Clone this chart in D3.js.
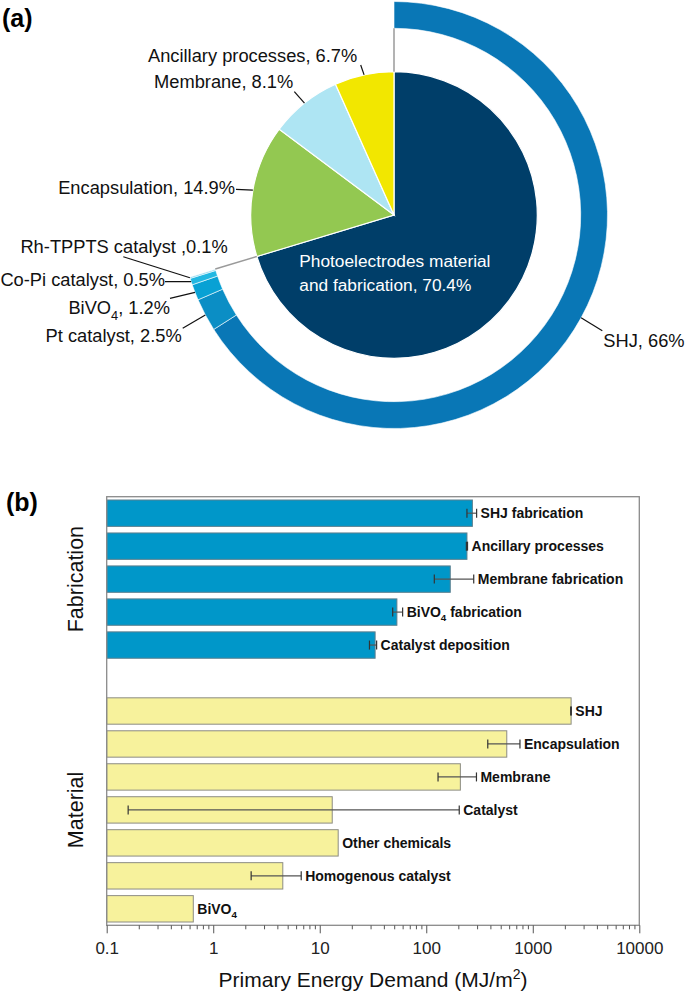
<!DOCTYPE html>
<html><head><meta charset="utf-8">
<script src="https://cdn.jsdelivr.net/npm/d3@7"></script>
<style>body{margin:0;background:#fff}svg{display:block;font-family:"Liberation Sans",Arial,sans-serif}</style>
</head><body><svg id="chart" width="685" height="996"></svg>
<script>
// ---------- data ----------
const pieLabels = ["Photoelectrodes material and fabrication", "Encapsulation", "Membrane", "Ancillary processes"];
const pieValues = [70.4, 14.9, 8.1, 6.7];
const ringLabels = ["SHJ", "Pt catalyst", "BiVO4", "Co-Pi catalyst", "Rh-TPPTS catalyst"];
const ringValues = [66, 2.5, 1.2, 0.5, 0.1];
const ringSeparators = [", ", ", ", ", ", ", ", " ,"];

const fabCategories = ["SHJ fabrication", "Ancillary processes", "Membrane fabrication", "BiVO4 fabrication", "Catalyst deposition"];
const fabValues = [271, 241, 168, 53, 33.1];
const fabErrLow = [241, 238, 119, 48.4, 29.3];
const fabErrHigh = [297, 244, 279, 60, 34.2];

const matCategories = ["SHJ", "Encapsulation", "Membrane", "Catalyst", "Other chemicals", "Homogenous catalyst", "BiVO4"];
const matValues = [2290, 570, 209, 13.1, 14.9, 4.5, 0.65];
const matErrLow = [2270, 378, 129, 0.159, null, 2.27, null];
const matErrHigh = [2300, 758, 296, 204, null, 6.7, null];

const groupLabels = ["Fabrication", "Material"];
const xTicks = [0.1, 1, 10, 100, 1000, 10000];
const xTickLabels = ["0.1", "1", "10", "100", "1000", "10000"];

(function () {
// ---------- styles / layout ----------
const pieColors = ["#003e69", "#93c851", "#aee5f3", "#f2e700"];
const ringColors = ["#0977b6", "#0b8ec5", "#08a1d4", "#22b8e2", "#7dd3ef"];
const svg = d3.select("#chart");
const FONT = 18.3;

function addText(sel, str, subSize) {
  const parts = str.split("BiVO4");
  let pendingDy = 0;
  parts.forEach((p, i) => {
    if (i > 0) {
      sel.append("tspan").text("BiVO");
      sel.append("tspan").attr("dy", subSize * 0.3).attr("font-size", subSize * 0.7).text("4");
      pendingDy = -subSize * 0.3;
    }
    if (p) {
      const ts = sel.append("tspan").text(p);
      if (pendingDy) { ts.attr("dy", pendingDy); pendingDy = 0; }
    }
  });
}

// ---------- panel (a) ----------
const cx = 394, cy = 215, R = 143.3, rIn = 186.7, rOut = 213.5;
const g = svg.append("g");
const pie = d3.pie().sort(null).value(d => d).startAngle(0).endAngle(2 * Math.PI);
const pieArcs = pie(pieValues);
const arc = d3.arc().innerRadius(0).outerRadius(R);
g.selectAll("path.pie").data(pieArcs).enter().append("path")
  .attr("transform", `translate(${cx},${cy})`)
  .attr("d", arc).attr("fill", (d, i) => pieColors[i])
  .attr("stroke", "#fff").attr("stroke-width", 1.2);

const ringTotal = d3.sum(ringValues);
const ringPie = d3.pie().sort(null).value(d => d).startAngle(0).endAngle(2 * Math.PI * ringTotal / 100);
const ringArcs = ringPie(ringValues);
const ringArc = d3.arc().innerRadius(rIn).outerRadius(rOut);
g.selectAll("path.ring").data(ringArcs).enter().append("path")
  .attr("transform", `translate(${cx},${cy})`)
  .attr("d", ringArc).attr("fill", (d, i) => ringColors[i])
  .attr("stroke", "#fff").attr("stroke-width", 0.6);

const pt = (a, r) => [cx + r * Math.sin(a), cy - r * Math.cos(a)];
[0, pieArcs[0].endAngle].forEach(a => {
  const p1 = pt(a, R), p2 = pt(a, rIn);
  g.append("line").attr("x1", p1[0]).attr("y1", p1[1]).attr("x2", p2[0]).attr("y2", p2[1])
    .attr("stroke", "#9a9a9a").attr("stroke-width", 1.5);
});

const inner = g.append("text").attr("fill", "#fff").attr("font-size", 17.3);
inner.append("tspan").attr("x", 299.3).attr("y", 267.3).text("Photoelectrodes material");
inner.append("tspan").attr("x", 299.3).attr("y", 290.7).text("and fabrication, " + pieValues[0] + "%");

const pieLabelLayout = [null,
  {tx: 235, ty: 194, lx: 236, ly: 189.3},
  {tx: 293.3, ty: 88.3, lx: 294.3, ly: 91.7},
  {tx: 357.3, ty: 61.7, lx: 360.7, ly: 65}];
pieArcs.forEach((d, i) => {
  const L = pieLabelLayout[i];
  if (!L) return;
  const mid = (d.startAngle + d.endAngle) / 2, p = pt(mid, R);
  g.append("line").attr("x1", p[0]).attr("y1", p[1]).attr("x2", L.lx).attr("y2", L.ly)
    .attr("stroke", "#111").attr("stroke-width", 1.2);
  const t = g.append("text").attr("x", L.tx).attr("y", L.ty).attr("text-anchor", "end")
    .attr("font-size", FONT).attr("fill", "#111");
  addText(t, pieLabels[i] + ", " + pieValues[i] + "%", FONT);
});

const ringLabelLayout = [
  {tx: 603.3, ty: 346.7, anchor: "start", lx: 602.3, ly: 330.7},
  {tx: 181.7, ty: 341.7, anchor: "end", lx: 182.7, ly: 328.3},
  {tx: 170, ty: 314.3, anchor: "end", lx: 170, ly: 298.3},
  {tx: 165, ty: 286, anchor: "end", lx: 165, ly: 281.7},
  {tx: 227.7, ty: 253.3, anchor: "end", lx: 123.3, ly: 256.7}];
ringArcs.forEach((d, i) => {
  const L = ringLabelLayout[i];
  const mid = (d.startAngle + d.endAngle) / 2, p = pt(mid, rOut);
  g.append("line").attr("x1", p[0]).attr("y1", p[1]).attr("x2", L.lx).attr("y2", L.ly)
    .attr("stroke", "#111").attr("stroke-width", 1.2);
  const t = g.append("text").attr("x", L.tx).attr("y", L.ty).attr("text-anchor", L.anchor)
    .attr("font-size", FONT).attr("fill", "#111");
  addText(t, ringLabels[i] + ringSeparators[i] + ringValues[i] + "%", FONT);
});

svg.append("text").attr("x", 2).attr("y", 27).attr("font-size", 25).attr("font-weight", "bold").text("(a)");
svg.append("text").attr("x", 6).attr("y", 511).attr("font-size", 25).attr("font-weight", "bold").text("(b)");

// ---------- panel (b) ----------
const pL = 106.7, pR = 639.3, pT = 496.7, pB = 925.3;
const x = d3.scaleLog().domain([0.1, 10000]).range([pL, pR]);
const rows = [];
fabCategories.forEach((c, i) => rows.push({key: "f" + i, name: c, v: fabValues[i], lo: fabErrLow[i], hi: fabErrHigh[i], grp: 0}));
rows.push({key: "gap"});
matCategories.forEach((c, i) => rows.push({key: "m" + i, name: c, v: matValues[i], lo: matErrLow[i], hi: matErrHigh[i], grp: 1}));
const y = d3.scaleBand().domain(rows.map(r => r.key)).range([pT, pB]).paddingInner(0.2).paddingOuter(0.1);
const bars = rows.filter(r => r.name);

const gb = svg.append("g");
gb.selectAll("rect.bar").data(bars).enter().append("rect")
  .attr("x", x(0.1)).attr("y", d => y(d.key))
  .attr("width", d => x(d.v) - x(0.1)).attr("height", y.bandwidth())
  .attr("fill", d => d.grp === 0 ? "#0097c9" : "#f7f29c")
  .attr("stroke", d => d.grp === 0 ? "#5b7f8e" : "#8c8c84").attr("stroke-width", 1);

bars.filter(d => d.lo != null).forEach(d => {
  const yc = y(d.key) + y.bandwidth() / 2;
  gb.append("line").attr("x1", x(d.lo)).attr("x2", x(d.hi)).attr("y1", yc).attr("y2", yc)
    .attr("stroke", "#555").attr("stroke-width", 1.2);
  [d.lo, d.hi].forEach(v => gb.append("line").attr("x1", x(v)).attr("x2", x(v))
    .attr("y1", yc - 4.5).attr("y2", yc + 4.5).attr("stroke", "#333").attr("stroke-width", 1.2));
});

bars.forEach(d => {
  const end = Math.max(d.v, d.hi || 0);
  const t = gb.append("text").attr("x", x(end) + 4).attr("y", y(d.key) + y.bandwidth() / 2 + 5)
    .attr("font-size", 14).attr("font-weight", "bold").attr("fill", "#111");
  addText(t, d.name, 14);
});

gb.append("rect").attr("x", pL).attr("y", pT).attr("width", pR - pL).attr("height", pB - pT)
  .attr("fill", "none").attr("stroke", "#8a8a8a").attr("stroke-width", 1.3);

const minor = x.ticks().filter(v => !xTicks.some(t => Math.abs(t - v) / t < 1e-6));
const axis = d3.axisBottom(x).tickValues(minor).tickSize(4).tickFormat("");
const ga = gb.append("g").attr("transform", `translate(0,${pB})`).call(axis);
ga.select(".domain").remove();
ga.selectAll("line").attr("stroke", "#555");
const axisMajor = d3.axisBottom(x).tickValues(xTicks).tickSize(8).tickFormat((d, i) => xTickLabels[i]).tickPadding(9);
const gm = gb.append("g").attr("transform", `translate(0,${pB})`).call(axisMajor);
gm.select(".domain").remove();
gm.selectAll("line").attr("stroke", "#555");
gm.selectAll("text").attr("font-size", 17).attr("fill", "#222").attr("font-family", "Liberation Sans, Arial, sans-serif");

const title = gb.append("text").attr("x", (pL + pR) / 2).attr("y", 987).attr("text-anchor", "middle")
  .attr("font-size", 21).attr("fill", "#111");
title.append("tspan").text("Primary Energy Demand (MJ/m");
title.append("tspan").attr("dy", -8).attr("font-size", 14).text("2");
title.append("tspan").attr("dy", 8).text(")");

[0, 1].forEach(gi => {
  const keys = rows.filter(r => r.grp === gi).map(r => r.key);
  const y0 = y(keys[0]), y1 = y(keys[keys.length - 1]) + y.bandwidth();
  const ym = (y0 + y1) / 2;
  gb.append("text").attr("transform", `translate(83,${ym}) rotate(-90)`).attr("text-anchor", "middle")
    .attr("font-size", 21.5).attr("fill", "#111").text(groupLabels[gi]);
});
})();
</script>
</body></html>
